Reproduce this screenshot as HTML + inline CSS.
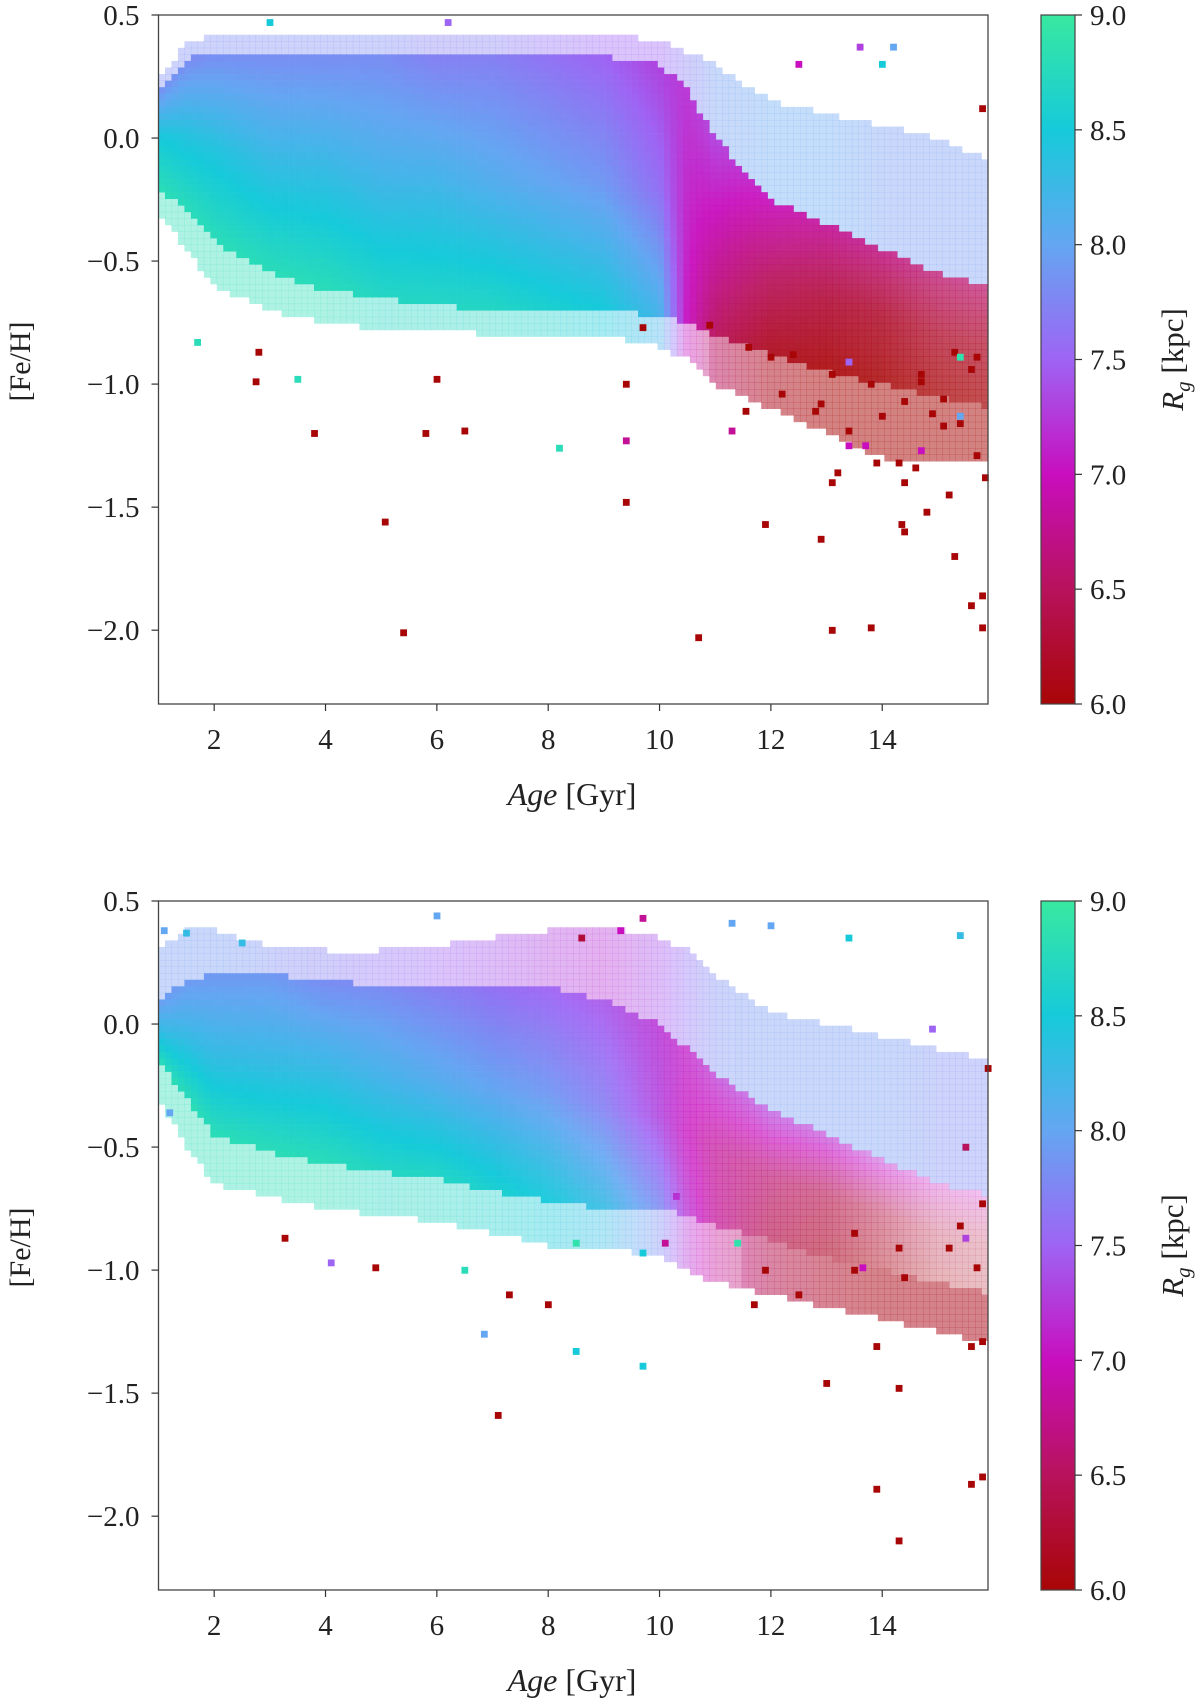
<!DOCTYPE html>
<html><head><meta charset="utf-8">
<style>
html,body{margin:0;padding:0;background:#fff;}
svg{display:block;font-family:"Liberation Serif","DejaVu Serif",serif;}
</style></head>
<body>
<svg id="fig" width="1200" height="1703" viewBox="0 0 1200 1703" xmlns="http://www.w3.org/2000/svg"></svg>
<script>
// ---------- data ----------
const ages = [1.0,1.5,2,3,4,5,6,7,8,9,10,10.5,11,12,13,14,15,16];
// top panel
const topSparseTop = [0.25,0.38,0.42,0.42,0.42,0.42,0.42,0.42,0.42,0.42,0.40,0.35,0.30,0.15,0.10,0.05,0.00,-0.10];
const topCoreTop   = [0.20,0.32,0.35,0.35,0.35,0.35,0.35,0.35,0.35,0.33,0.30,0.20,0.00,-0.25,-0.35,-0.45,-0.55,-0.60];
const topCoreBot   = [-0.20,-0.30,-0.42,-0.55,-0.62,-0.65,-0.68,-0.70,-0.70,-0.70,-0.72,-0.75,-0.80,-0.88,-0.95,-1.00,-1.05,-1.10];
const topSparseBot = [-0.30,-0.45,-0.60,-0.70,-0.75,-0.78,-0.78,-0.80,-0.80,-0.80,-0.85,-0.90,-1.00,-1.10,-1.20,-1.30,-1.30,-1.30];
const topHaloRg    = [7.8,7.8,7.8,7.8,7.8,7.8,7.7,7.7,7.6,7.5,7.5,7.7,7.9,8.0,8.0,7.9,7.9,7.9];
const topRgTop     = [7.8,7.8,7.8,7.8,7.8,7.8,7.7,7.7,7.6,7.5,7.3,7.2,7.3,7.0,6.8,6.7,6.6,6.6];
const topRgMid     = [8.5,8.4,8.4,8.3,8.3,8.2,8.2,8.1,8.0,7.9,7.6,7.1,6.9,6.5,6.3,6.2,6.2,6.2];
const topRgBot     = [8.8,8.8,8.8,8.8,8.8,8.7,8.7,8.7,8.6,8.5,8.2,7.0,6.5,6.1,6.0,6.0,6.0,6.0];
const topDensity   = [1,1,1,1,1,1,1,1,1,1,1,0.95,0.95,0.92,0.9,0.85,0.75,0.7];
const topOutliers = [
 [9.7,-0.77,6.0],[9.4,-1.0,6.0],[10.9,-0.76,6.0],[11.6,-0.85,6.0],[12.0,-0.89,6.0],[12.2,-1.04,6.0],
 [12.4,-0.88,6.0],[12.9,-1.08,6.0],[12.8,-1.11,6.0],[13.1,-0.96,6.0],[13.2,-1.36,6.0],[13.1,-1.40,6.0],
 [13.4,-1.19,6.0],[13.8,-1.0,6.0],[14.0,-1.13,6.0],[13.9,-1.32,6.0],[14.4,-1.07,6.0],[14.3,-1.32,6.0],
 [14.4,-1.40,6.0],[14.6,-1.34,6.0],[14.7,-0.96,6.0],[14.9,-1.12,6.0],[15.1,-1.17,6.0],[15.4,-1.16,6.0],
 [15.7,-1.29,6.0],[15.85,-1.38,6.0],[15.6,-0.94,6.0],[15.7,-0.89,6.0],[15.3,-0.87,6.0],[14.7,-0.99,6.0],
 [15.1,-1.06,6.0],[13.4,-1.25,7.0],[13.7,-1.25,7.0],[14.7,-1.27,7.0],[15.4,-0.89,8.9],[15.4,-1.13,8.0],
 [13.4,-0.91,7.5],[11.55,-1.11,6.0],[11.3,-1.19,6.8],[5.07,-1.56,6.0],[5.4,-2.01,6.0],[10.7,-2.03,6.0],
 [9.4,-1.48,6.0],[3.8,-1.2,6.0],[5.8,-1.2,6.0],[6.5,-1.19,6.0],[8.2,-1.26,8.8],[9.4,-1.23,6.8],
 [1.7,-0.83,8.8],[2.8,-0.87,6.0],[2.75,-0.99,6.0],[3.5,-0.98,8.8],[6.0,-0.98,6.0],[11.9,-1.57,6.0],
 [12.9,-1.63,6.0],[13.1,-2.0,6.0],[13.8,-1.99,6.0],[15.3,-1.7,6.0],[15.6,-1.9,6.0],[15.8,-1.99,6.0],
 [15.8,-1.86,6.0],[14.35,-1.57,6.0],[14.4,-1.6,6.0],[3.0,0.47,8.5],[6.2,0.47,7.5],[13.6,0.37,7.3],
 [14.2,0.37,8.0],[15.8,0.12,6.0],[14.0,0.3,8.5],[12.5,0.3,7.0],[15.2,-1.45,6.0],[14.8,-1.52,6.0]
];
// bottom panel
const botSparseTop = [0.30,0.38,0.38,0.32,0.30,0.30,0.32,0.35,0.38,0.40,0.35,0.30,0.20,0.05,0.00,-0.05,-0.10,-0.15];
const botCoreTop   = [0.10,0.18,0.20,0.20,0.18,0.15,0.15,0.15,0.15,0.10,0.00,-0.10,-0.20,-0.35,-0.45,-0.55,-0.65,-0.70];
const botCoreBot   = [-0.15,-0.30,-0.45,-0.52,-0.57,-0.60,-0.63,-0.68,-0.72,-0.75,-0.75,-0.78,-0.82,-0.88,-0.95,-1.00,-1.05,-1.10];
const botSparseBot = [-0.30,-0.50,-0.65,-0.70,-0.75,-0.78,-0.80,-0.85,-0.90,-0.90,-0.95,-1.00,-1.05,-1.10,-1.15,-1.20,-1.25,-1.30];
const botHaloRg    = [7.9,7.9,7.9,7.8,7.7,7.6,7.5,7.4,7.3,7.2,7.4,7.6,7.8,7.9,7.9,7.9,7.8,7.8];
const botRgTop     = [7.9,7.9,7.9,7.9,7.8,7.8,7.7,7.6,7.5,7.4,7.2,7.1,7.2,7.3,7.2,7.2,7.0,7.0];
const botRgMid     = [8.3,8.3,8.3,8.3,8.3,8.2,8.1,8.0,7.9,7.7,7.3,7.0,6.8,6.6,6.4,6.3,6.3,6.3];
const botRgBot     = [8.8,8.8,8.8,8.8,8.8,8.7,8.7,8.6,8.5,8.3,7.8,7.2,6.8,6.4,6.2,6.1,6.1,6.1];
const botDensity   = [1,1,1,1,1,1,1,1,0.95,0.9,0.85,0.75,0.7,0.65,0.6,0.45,0.3,0.25];
const botOutliers = [
 [11.7,-1.14,6.0],[11.9,-1.0,6.0],[14.3,-1.48,6.0],[13.9,-1.31,6.0],[15.6,-1.31,6.0],[15.8,-1.29,6.0],
 [13.5,-1.0,6.0],[13.65,-0.99,7.0],[14.4,-1.03,6.0],[15.7,-0.99,6.0],[10.1,-0.89,6.8],[9.7,-0.93,8.5],
 [8.5,-0.89,8.9],[11.4,-0.89,8.9],[10.3,-0.7,7.2],[13.5,-0.85,6.0],[14.3,-0.91,6.0],[15.2,-0.91,6.0],
 [15.5,-0.87,7.3],[15.4,-0.82,6.0],[3.27,-0.87,6.0],[4.1,-0.97,7.5],[4.9,-0.99,6.0],[6.5,-1.0,8.8],
 [7.3,-1.1,6.0],[8.0,-1.14,6.0],[6.85,-1.26,8.0],[7.1,-1.59,6.0],[8.5,-1.33,8.5],[9.7,-1.39,8.5],
 [13.9,-1.89,6.0],[14.3,-2.1,6.0],[15.6,-1.87,6.0],[15.8,-1.84,6.0],[13.0,-1.46,6.0],[12.5,-1.1,6.0],
 [1.1,0.38,8.0],[1.5,0.37,8.3],[6.0,0.44,8.0],[9.7,0.43,6.8],[11.3,0.41,8.0],[12.0,0.40,8.0],
 [15.4,0.36,8.3],[8.6,0.35,6.3],[9.3,0.38,7.0],[13.4,0.35,8.5],[2.5,0.33,8.3],[1.2,-0.36,8.0],
 [15.8,-0.73,6.0],[15.9,-0.18,6.0],[15.5,-0.5,6.5],[14.9,-0.02,7.5]
];
const xTicks = [2,4,6,8,10,12,14];
const yTicks = [0.5,0.0,-0.5,-1.0,-1.5,-2.0];
const yTickLabels = ["0.5","0.0","\u22120.5","\u22121.0","\u22121.5","\u22122.0"];
const cbTicks = [9.0,8.5,8.0,7.5,7.0,6.5,6.0];
const cbTickLabels = ["9.0","8.5","8.0","7.5","7.0","6.5","6.0"];

// ---------- geometry ----------
const NS = "http://www.w3.org/2000/svg";
const svg = document.getElementById('fig');
const X0=158.5, X1=988, XMIN=1.0, XMAX=15.9;
const YMIN=-2.3, YMAX=0.5;
const CBX0=1041, CBX1=1075;
const NX=128, NY=105;
function mk(tag, attrs, parent){const e=document.createElementNS(NS,tag);for(const k in attrs)e.setAttribute(k,attrs[k]);(parent||svg).appendChild(e);return e;}
function interp(xs, ys, x){ if(x<=xs[0])return ys[0]; for(let i=1;i<xs.length;i++){ if(x<=xs[i]){const t=(x-xs[i-1])/(xs[i]-xs[i-1]);return ys[i-1]+t*(ys[i]-ys[i-1]);} } return ys[ys.length-1];}
const cmapV=[6.0,6.5,7.0,7.5,8.0,8.5,9.0];
const cmapC=[[168,6,6],[184,18,92],[200,14,190],[158,100,244],[100,166,242],[22,202,218],[56,232,160]];
function cmap(v){v=Math.max(6,Math.min(9,v));let i=1;while(i<cmapV.length-1&&v>cmapV[i])i++;const t=(v-cmapV[i-1])/(cmapV[i]-cmapV[i-1]);const a=cmapC[i-1],b=cmapC[i];return `rgb(${Math.round(a[0]+t*(b[0]-a[0]))},${Math.round(a[1]+t*(b[1]-a[1]))},${Math.round(a[2]+t*(b[2]-a[2]))})`;}

function panel(name, oy, P){
  const Y0=15+oy, Y1=704+oy;
  const xs=a=>X0+(a-XMIN)/(XMAX-XMIN)*(X1-X0);
  const ys=f=>Y0+(YMAX-f)/(YMAX-YMIN)*(Y1-Y0);
  const g=mk('g',{});  
  const dx=(XMAX-XMIN)/NX, dy=(YMAX-YMIN)/NY;
  const cw=(X1-X0)/NX, ch=(Y1-Y0)/NY;
  for(let i=0;i<NX;i++){
    const a=XMIN+(i+0.5)*dx;
    const st=interp(ages,P.sparseTop,a), ct=interp(ages,P.coreTop,a), cb=interp(ages,P.coreBot,a), sb=interp(ages,P.sparseBot,a);
    const hr=interp(ages,P.haloRg,a), rt=interp(ages,P.rgTop,a), rm=interp(ages,P.rgMid,a), rb=interp(ages,P.rgBot,a), de=interp(ages,P.density,a);
    for(let j=0;j<NY;j++){
      const f=YMAX-(j+0.5)*dy;
      let rg, op;
      if(f>st||f<sb) continue;
      if(f>ct){rg=hr;op=0.38;}
      else if(f<cb){rg=rb;op=rb<6.6?0.5:0.38;}
      else{const t=(ct-f)/(ct-cb); rg = t<0.5 ? rt+(rm-rt)*t*2 : rm+(rb-rm)*(t-0.5)*2; op=de;}
      const r=mk('rect',{x:(xs(a)-cw/2).toFixed(2),y:(ys(f)-ch/2).toFixed(2),width:(cw+0.3).toFixed(2),height:(ch+0.3).toFixed(2),fill:cmap(rg),'fill-opacity':op},g);
      
      
    }
  }
  P.outliers.forEach(o=>{
    const r=mk('rect',{x:(xs(o[0])-cw/2).toFixed(2),y:(ys(o[1])-ch/2).toFixed(2),width:(cw+0.3).toFixed(2),height:(ch+0.3).toFixed(2),fill:cmap(o[2])},g);
    
    
  });
  const fr=mk('rect',{x:X0,y:Y0,width:X1-X0,height:Y1-Y0,fill:'none',stroke:'#444','stroke-width':1.3});
  
  
  xTicks.forEach(t=>{
    const x=xs(t);
    const l=mk('line',{x1:x,x2:x,y1:Y1,y2:Y1+7,stroke:'#333','stroke-width':1.2});
    
    
    const tx=mk('text',{x:x,y:Y1+45,'font-size':29,'text-anchor':'middle',fill:'#222'});tx.textContent=String(t);
    
    
  });
  yTicks.forEach((t,k)=>{
    const y=ys(t);
    const l=mk('line',{x1:X0-7,x2:X0,y1:y,y2:y,stroke:'#333','stroke-width':1.2});
    
    
    const tx=mk('text',{x:X0-19,y:y+10,'font-size':29,'text-anchor':'end',fill:'#222'});tx.textContent=yTickLabels[k];
    
    
  });
  const xl=mk('text',{x:572,y:Y1+101,'font-size':32,'text-anchor':'middle',fill:'#222'});
  xl.innerHTML='<tspan font-style="italic">Age</tspan> [Gyr]';
  
  
  const yl=mk('text',{x:0,y:0,'font-size':30,'text-anchor':'middle',fill:'#222',transform:`translate(30,${(Y0+Y1)/2+2}) rotate(-90)`});
  yl.textContent='[Fe/H]';
  
  
  const defs=mk('defs',{});
  const gr=mk('linearGradient',{id:'cg'+name,x1:0,y1:1,x2:0,y2:0},defs);
  cmapV.forEach((v,k)=>mk('stop',{offset:(v-6)/3,'stop-color':cmap(v)},gr));
  const cbr=mk('rect',{x:CBX0,y:Y0,width:CBX1-CBX0,height:Y1-Y0,fill:`url(#cg${name})`,stroke:'#444','stroke-width':1.2});
  
  
  const cy=v=>Y1-(v-6)/3*(Y1-Y0);
  cbTicks.forEach((v,k)=>{
    const y=cy(v);
    const l=mk('line',{x1:CBX1,x2:CBX1+7,y1:y,y2:y,stroke:'#333','stroke-width':1.2});
    
    
    const tx=mk('text',{x:CBX1+15,y:y+10,'font-size':29,fill:'#222'});tx.textContent=cbTickLabels[k];
    
    
  });
  const cl=mk('text',{x:0,y:0,'font-size':31,'text-anchor':'middle',fill:'#222',transform:`translate(1183,${(Y0+Y1)/2}) rotate(-90)`});
  cl.innerHTML='<tspan font-style="italic">R</tspan><tspan font-style="italic" font-size="21" dy="7">g</tspan><tspan dy="-7"> [kpc]</tspan>';
  
  
}
panel('top',0,{sparseTop:topSparseTop,coreTop:topCoreTop,coreBot:topCoreBot,sparseBot:topSparseBot,haloRg:topHaloRg,rgTop:topRgTop,rgMid:topRgMid,rgBot:topRgBot,density:topDensity,outliers:topOutliers});
panel('bottom',886,{sparseTop:botSparseTop,coreTop:botCoreTop,coreBot:botCoreBot,sparseBot:botSparseBot,haloRg:botHaloRg,rgTop:botRgTop,rgMid:botRgMid,rgBot:botRgBot,density:botDensity,outliers:botOutliers});
</script>
</body></html>
